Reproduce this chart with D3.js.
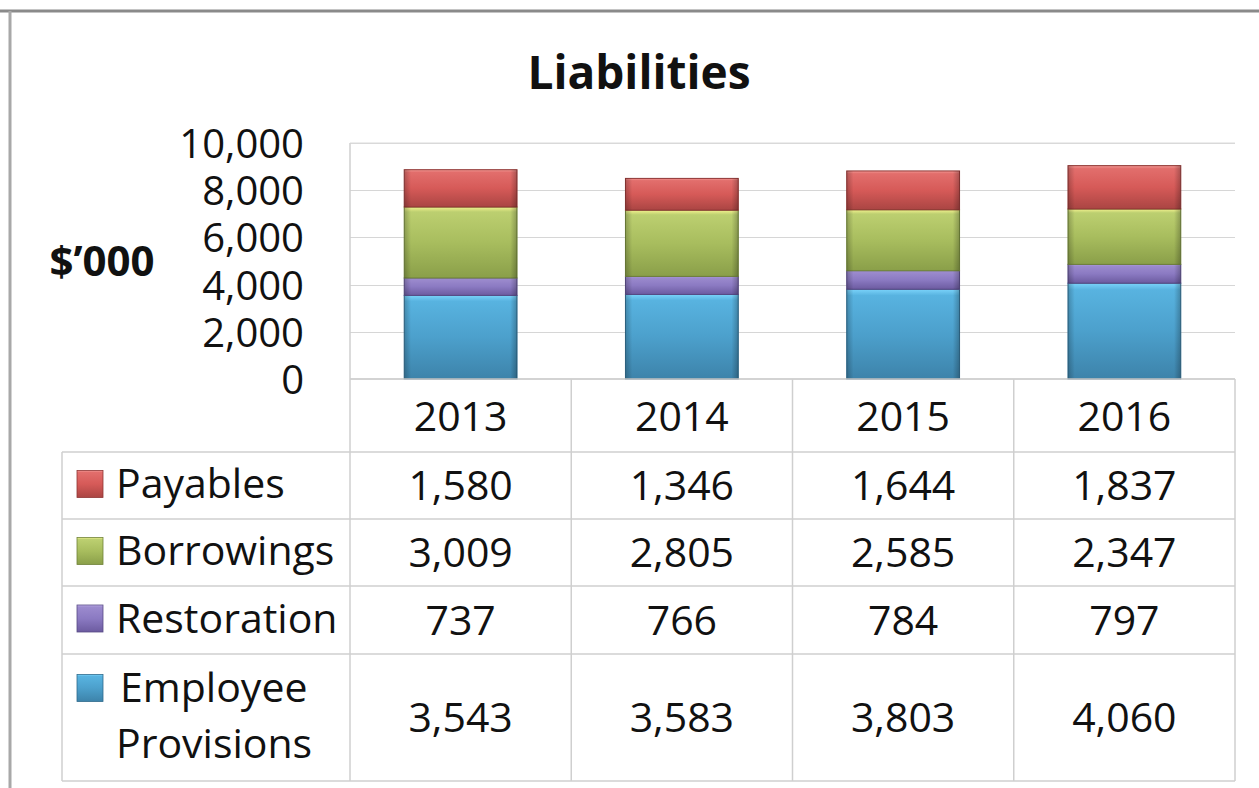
<!DOCTYPE html>
<html>
<head>
<meta charset="utf-8">
<script src="https://cdn.jsdelivr.net/npm/d3@7"></script>
<style>
  html, body { margin: 0; padding: 0; background: #fff; }
  svg { display: block; }
  text { font-family: "Open Sans", "Liberation Sans", sans-serif; fill: #111; }
</style>
</head>
<body>
<svg id="chart" width="1259" height="788"></svg>
<script>
// ---- data ----
const years = ["2013", "2014", "2015", "2016"];
const seriesNames = ["Payables", "Borrowings", "Restoration", "Employee Provisions"];
const payables = [1580, 1346, 1644, 1837];
const borrowings = [3009, 2805, 2585, 2347];
const restoration = [737, 766, 784, 797];
const employeeProvisions = [3543, 3583, 3803, 4060];
const yTicks = [0, 2000, 4000, 6000, 8000, 10000];
const chartTitle = "Liabilities";
const yTitle = "$\u2019000";

// table / stack built from arrays
const seriesValues = {
  "Payables": payables,
  "Borrowings": borrowings,
  "Restoration": restoration,
  "Employee Provisions": employeeProvisions
};
const rows = years.map((y, i) => {
  const r = { year: y };
  seriesNames.forEach(s => r[s] = seriesValues[s][i]);
  return r;
});
// stack order bottom -> top
const stackOrder = ["Employee Provisions", "Restoration", "Borrowings", "Payables"];
const stacked = d3.stack().keys(stackOrder)(rows);

const palette = {
  "Payables":            { hi: "#f39a96", light: "#e26e6c", mid: "#d65a58", dark: "#aa4543", line: "#8e3533" },
  "Borrowings":          { hi: "#f3f28e", light: "#bccf70", mid: "#a8bd5e", dark: "#8a9f49", line: "#6f8238" },
  "Restoration":         { hi: "#c4b6ee", light: "#9c8bce", mid: "#8b7ac2", dark: "#6c5ba0", line: "#574a84" },
  "Employee Provisions": { hi: "#7ad3fa", light: "#58b3e0", mid: "#4ca0cc", dark: "#3d83aa", line: "#2f6a8c" }
};

const svg = d3.select("#chart");
const defs = svg.append("defs");

stackOrder.forEach((k, i) => {
  const c = palette[k];
  const g = defs.append("linearGradient").attr("id", "grad" + i)
    .attr("x1", 0).attr("y1", 0).attr("x2", 0).attr("y2", 1);
  g.append("stop").attr("offset", "0").attr("stop-color", c.hi);
  g.append("stop").attr("offset", "0.07").attr("stop-color", c.light);
  g.append("stop").attr("offset", "0.5").attr("stop-color", c.mid);
  g.append("stop").attr("offset", "1").attr("stop-color", c.dark);
});
const side = defs.append("linearGradient").attr("id", "side")
  .attr("x1", 0).attr("y1", 0).attr("x2", 1).attr("y2", 0);
side.append("stop").attr("offset", "0").attr("stop-color", "#000").attr("stop-opacity", 0.22);
side.append("stop").attr("offset", "0.06").attr("stop-color", "#000").attr("stop-opacity", 0.0);
side.append("stop").attr("offset", "0.94").attr("stop-color", "#000").attr("stop-opacity", 0.0);
side.append("stop").attr("offset", "1").attr("stop-color", "#000").attr("stop-opacity", 0.25);

// ---- layout ----
const plotLeft = 350, plotRight = 1235, plotTop = 143, plotBottom = 379;
const x = d3.scaleBand().domain(years).range([plotLeft, plotRight]).paddingInner(0).paddingOuter(0);
const y = d3.scaleLinear().domain([0, 10000]).range([plotBottom, plotTop]);
const barW = x.bandwidth() * 0.51;
const fmt = d3.format(",");

// outer frame
svg.append("line").attr("x1", 0).attr("x2", 1259).attr("y1", 11).attr("y2", 11)
  .attr("stroke", "#8a8a8a").attr("stroke-width", 3);
svg.append("line").attr("x1", 10).attr("x2", 10).attr("y1", 11).attr("y2", 788)
  .attr("stroke", "#a8a8a8").attr("stroke-width", 3);

// title
svg.append("text").attr("x", 639).attr("y", 89).attr("text-anchor", "middle")
  .style("font-weight", "bold").style("font-size", "46px").text(chartTitle);

// gridlines
svg.append("g").selectAll("line").data(yTicks.filter(d => d > 0)).join("line")
  .attr("x1", plotLeft).attr("x2", plotRight)
  .attr("y1", d => Math.round(y(d)) + 0.5).attr("y2", d => Math.round(y(d)) + 0.5)
  .attr("stroke", "#d6d6d6").attr("stroke-width", 1.2);

// y axis
const yAxis = svg.append("g").attr("transform", `translate(${plotLeft},0)`)
  .call(d3.axisLeft(y).tickValues(yTicks).tickSize(0).tickPadding(46).tickFormat(fmt));
yAxis.select(".domain").remove();
yAxis.selectAll("text").style("font-size", "40px").style("font-family", "'Open Sans', sans-serif")
  .attr("fill", "#111").attr("dy", "0.36em");

// y title
svg.append("text").attr("x", 102).attr("y", 261).attr("dy", "0.36em").attr("text-anchor", "middle")
  .style("font-weight", "bold").style("font-size", "42px").text(yTitle);

// bars
const layers = svg.append("g").selectAll("g").data(stacked).join("g");
layers.each(function(layer, li) {
  const g = d3.select(this);
  g.selectAll("rect.fill").data(layer).join("rect").attr("class", "fill")
    .attr("x", d => x(d.data.year) + (x.bandwidth() - barW) / 2)
    .attr("y", d => y(d[1]))
    .attr("width", barW)
    .attr("height", d => y(d[0]) - y(d[1]))
    .attr("fill", `url(#grad${li})`)
    .attr("stroke", palette[layer.key].line).attr("stroke-width", 1);
  g.selectAll("rect.side").data(layer).join("rect").attr("class", "side")
    .attr("x", d => x(d.data.year) + (x.bandwidth() - barW) / 2)
    .attr("y", d => y(d[1]))
    .attr("width", barW)
    .attr("height", d => y(d[0]) - y(d[1]))
    .attr("fill", "url(#side)");
});

// ---- data table ----
const legendLeft = 62;
const rowEdges = [379, 452, 519, 586, 654, 781];
const lineColor = "#cfcfcf";
const tbl = svg.append("g");
// horizontal lines
tbl.append("line").attr("x1", plotLeft).attr("x2", plotRight).attr("y1", rowEdges[0]).attr("y2", rowEdges[0])
  .attr("stroke", "#c4c4c4").attr("stroke-width", 1.5);
tbl.selectAll("line.h").data(rowEdges.slice(1)).join("line").attr("class", "h")
  .attr("x1", legendLeft).attr("x2", plotRight)
  .attr("y1", d => d).attr("y2", d => d)
  .attr("stroke", lineColor).attr("stroke-width", 1.5);
// vertical lines
const colEdges = years.map(yr => x(yr)).concat([plotRight]);
tbl.selectAll("line.v").data(colEdges).join("line").attr("class", "v")
  .attr("x1", d => d).attr("x2", d => d)
  .attr("y1", (d, i) => i === 0 ? plotTop : rowEdges[0])
  .attr("y2", rowEdges[rowEdges.length - 1])
  .attr("stroke", lineColor).attr("stroke-width", 1.5);
tbl.append("line").attr("x1", legendLeft).attr("x2", legendLeft)
  .attr("y1", rowEdges[1]).attr("y2", rowEdges[rowEdges.length - 1])
  .attr("stroke", lineColor).attr("stroke-width", 1.5);
// plot top border
tbl.append("line").attr("x1", plotLeft).attr("x2", plotRight).attr("y1", plotTop).attr("y2", plotTop)
  .attr("stroke", "#dcdcdc").attr("stroke-width", 1.2);

// header years
tbl.selectAll("text.yr").data(years).join("text").attr("class", "yr")
  .attr("x", d => x(d) + x.bandwidth() / 2).attr("y", 416).attr("dy", "0.36em")
  .attr("text-anchor", "middle").style("font-size", "41px").text(d => d);

// rows: table order
const tableOrder = ["Payables", "Borrowings", "Restoration", "Employee Provisions"];
tableOrder.forEach((name, ri) => {
  const top = rowEdges[ri + 1], bot = rowEdges[ri + 2];
  const cy = (top + bot) / 2;
  const c = palette[name];
  // values
  tbl.selectAll("text.v" + ri).data(seriesValues[name]).join("text").attr("class", "v" + ri)
    .attr("x", (d, i) => x(years[i]) + x.bandwidth() / 2).attr("y", cy).attr("dy", "0.36em")
    .attr("text-anchor", "middle").style("font-size", "41px").text(d => fmt(d));
  // legend key
  const lines = name === "Employee Provisions" ? ["Employee", "Provisions"] : [name];
  const firstY = lines.length === 1 ? cy - 2 : cy - 30;
  const gi = stackOrder.indexOf(name);
  tbl.append("rect").attr("x", 77).attr("y", firstY - 13).attr("width", 26).attr("height", 27)
    .attr("fill", `url(#grad${gi})`).attr("stroke", c.line).attr("stroke-width", 0.8);
  lines.forEach((ln, k) => {
    tbl.append("text").attr("x", k === 0 && lines.length > 1 ? 120 : 116)
      .attr("y", firstY + k * 56).attr("dy", "0.36em")
      .style("font-size", "41px").text(ln);
  });
});
</script>
</body>
</html>
